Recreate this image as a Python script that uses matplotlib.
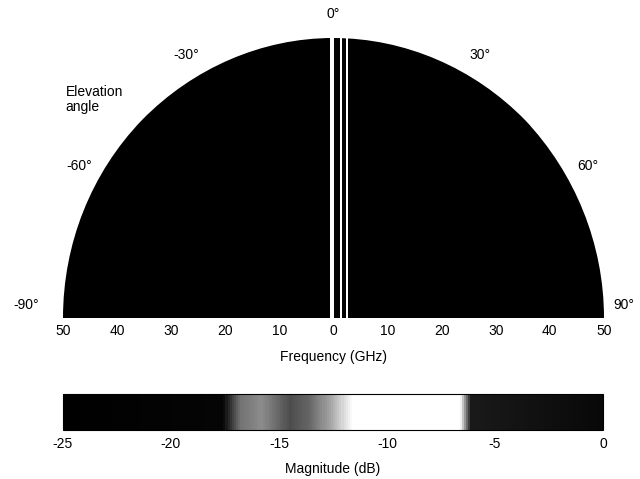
import matplotlib
matplotlib.use("Agg")
import matplotlib.pyplot as plt
import numpy as np
from matplotlib.colors import LinearSegmentedColormap
from matplotlib.patches import Wedge

plt.rcParams["font.family"] = ["Liberation Sans", "DejaVu Sans"]
plt.rcParams["axes.unicode_minus"] = False

# magnitude (dB) along the horizontal position (GHz) of the half disk
band_edges = [-50, -0.7, 0.1, 1.2, 1.6, 2.3, 2.7, 50]
band_db = [-25, -8, -19, -8, -20, -8, -25]

# grey scale used by the colour bar
cmap_db = [-25, -17.6, -16.8, -15.8, -14.5, -13.6, -12.6, -11.6, -6.6, -6.1, 0]
cmap_gray = [0.0, 0.02, 0.45, 0.55, 0.3, 0.4, 0.65, 1.0, 1.0, 0.1, 0.03]

freq_ticks = [-50, -40, -30, -20, -10, 0, 10, 20, 30, 40, 50]
angle_ticks = [-90, -60, -30, 0, 30, 60, 90]
db_ticks = [-25, -20, -15, -10, -5, 0]

stops = [(d - cmap_db[0]) / (cmap_db[-1] - cmap_db[0]) for d in cmap_db]
cmap = LinearSegmentedColormap.from_list(
    "scan", [(s, (g, g, g)) for s, g in zip(stops, cmap_gray)]
)

fig = plt.figure(figsize=(6.4, 4.79), dpi=100)
ax = fig.add_axes([0.0984, 0.336, 0.8453, 0.5846])
ax.set_xlim(-50, 50)
ax.set_ylim(0, 50)

mesh = ax.pcolormesh(
    band_edges, [0, 50], np.array([band_db]), cmap=cmap, vmin=-25, vmax=0
)
half = Wedge((0, 0), 50, 0, 180, transform=ax.transData, facecolor="none",
             edgecolor="none")
ax.add_patch(half)
mesh.set_clip_path(half)

for s in ax.spines.values():
    s.set_visible(False)
ax.set_yticks([])
ax.set_xticks(freq_ticks)
ax.set_xticklabels([str(abs(f)) for f in freq_ticks], fontsize=10)
ax.tick_params(axis="x", length=0, pad=4)
ax.set_xlabel("Frequency (GHz)", fontsize=10, labelpad=9)

for a in angle_ticks:
    t = np.deg2rad(a)
    r = 54.3
    x, y = r * np.sin(t), r * np.cos(t)
    if abs(a) == 90:
        y = 2.3
        x = -56.8 if a < 0 else 53.6
    ax.text(x, y, f"{a}°", ha="center", va="center", fontsize=10,
            clip_on=False)
ax.text(-49.5, 39, "Elevation\nangle", ha="left", va="center", fontsize=10,
        linespacing=1.1)

cax = fig.add_axes([0.0984, 0.1023, 0.8438, 0.0752])
cb = fig.colorbar(mesh, cax=cax, orientation="horizontal")
cb.set_ticks(db_ticks)
cb.ax.tick_params(length=0, pad=5, labelsize=10)
cb.outline.set_linewidth(0.8)
cb.set_label("Magnitude (dB)", fontsize=10, labelpad=8)

fig.savefig("out.png", dpi=100)
